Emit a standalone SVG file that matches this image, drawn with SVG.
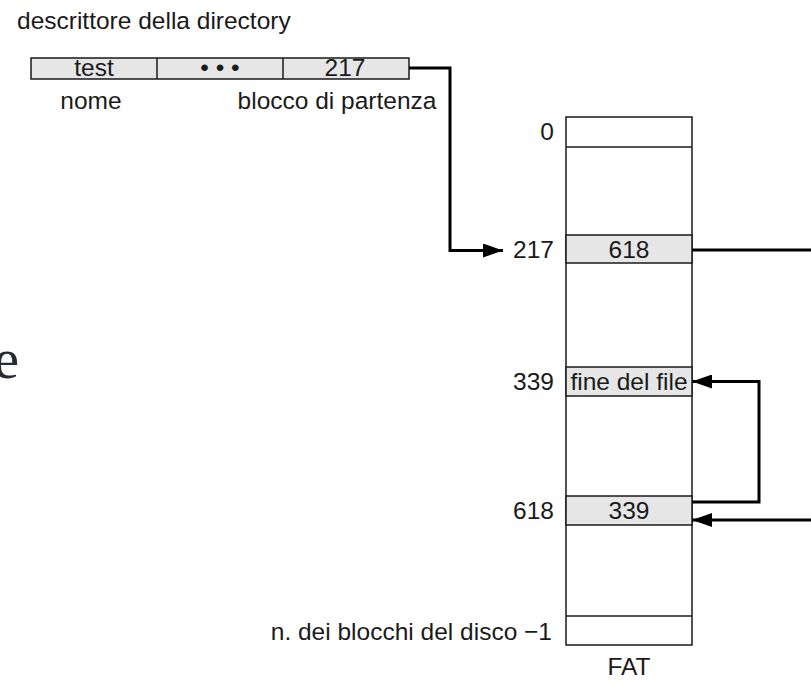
<svg xmlns="http://www.w3.org/2000/svg" width="811" height="685" viewBox="0 0 811 685">
<defs>
<style>
text{font-family:"Liberation Sans",Arial,sans-serif;font-size:24.5px;fill:#1a1a1a}
.c{text-anchor:middle}
.r{text-anchor:end}
.box{fill:#fff;stroke:#1a1a1a;stroke-width:1.5}
.g{fill:#e6e6e6;stroke:#1a1a1a;stroke-width:1.5}
.sep{stroke:#1a1a1a;stroke-width:1.5}
.ln{fill:none;stroke:#000;stroke-width:3}
.serif{font-family:"Liberation Serif","Times New Roman",serif;font-size:57px;fill:#2a2a33}
</style>
<marker id="ah" markerUnits="userSpaceOnUse" markerWidth="20" markerHeight="14" refX="20" refY="7" orient="auto">
<path d="M0,0 L20,7 L0,14 z" fill="#000"/>
</marker>
</defs>
<rect width="811" height="685" fill="#fff"/>
<text class="serif r" x="19" y="378">e</text>
<g id="directory">
<text x="17" y="29">descrittore della directory</text>
<rect class="g" x="31" y="58" width="378" height="21"/>
<line class="sep" x1="157" y1="58" x2="157" y2="79"/>
<line class="sep" x1="283" y1="58" x2="283" y2="79"/>
<text class="c" x="94" y="76">test</text>
<text class="c" x="220" y="76">• • •</text>
<text class="c" x="345" y="76">217</text>
<text class="c" x="91" y="109">nome</text>
<text class="c" x="337" y="109">blocco di partenza</text>
</g>
<g id="fat">
<rect class="box" x="566" y="117" width="126" height="528"/>
<line class="sep" x1="566" y1="147" x2="692" y2="147"/>
<rect class="g" x="566" y="235" width="126" height="28"/>
<rect class="g" x="566" y="367" width="126" height="29"/>
<rect class="g" x="566" y="496" width="126" height="29"/>
<line class="sep" x1="566" y1="616" x2="692" y2="616"/>
<text class="r" x="554" y="140">0</text>
<text class="r" x="554" y="258">217</text>
<text class="r" x="554" y="390">339</text>
<text class="r" x="554" y="519">618</text>
<text class="r" x="552" y="640">n. dei blocchi del disco  −1</text>
<text class="c" x="629" y="258">618</text>
<text class="c" x="629" y="390">fine del file</text>
<text class="c" x="629" y="519">339</text>
<text class="c" x="629" y="675">FAT</text>
</g>
<g id="connectors">
<path class="ln" d="M409,68 H450 V250.5 H503" marker-end="url(#ah)"/>
<path class="ln" d="M692,250 H811"/>
<path class="ln" d="M692,502 H759 V381.5 H692" marker-end="url(#ah)"/>
<path class="ln" d="M811,520 H692" marker-end="url(#ah)"/>
</g>
</svg>
